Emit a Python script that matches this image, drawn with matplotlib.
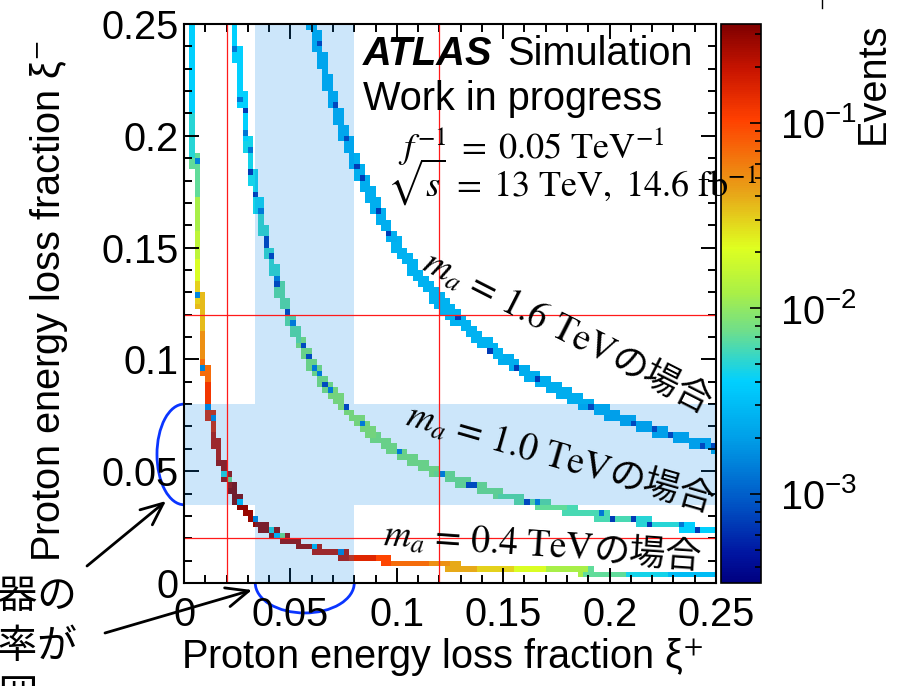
import numpy as np
import matplotlib
matplotlib.use('Agg')
import matplotlib.pyplot as plt
from matplotlib.colors import LogNorm, LinearSegmentedColormap
from matplotlib.patches import Rectangle, Arc
from matplotlib.ticker import MultipleLocator, FuncFormatter
from matplotlib.lines import Line2D

plt.rcParams['font.family'] = ['Liberation Sans', 'DejaVu Sans']
plt.rcParams['mathtext.fontset'] = 'stix'

# --- values ---
sqrt_s = 13.0                 # TeV
masses = [0.4, 1.0, 1.6]      # TeV, one curve each
xi_edges = np.linspace(0.0, 0.25, 101)   # 100 bins in xi+ and xi-
smear = 0.012                 # relative width of the filled trail

# events along each curve (xi+ where the colour changes, value from there on)
xi_04 = [0.0038, 0.0045, 0.005, 0.0055, 0.006, 0.0065, 0.007, 0.0075, 0.0085,
         0.0095, 0.0105, 0.012, 0.014, 0.017, 0.022, 0.03, 0.045, 0.06, 0.08,
         0.09, 0.1, 0.115, 0.125, 0.14, 0.155, 0.17, 0.19, 0.21, 0.23]
ev_04 = [4e-3, 5e-3, 7e-3, 0.012, 0.015, 0.02, 0.03, 0.035, 0.05,
         0.07, 0.12, 0.15, 0.2, 0.25, 0.3, 0.28, 0.25, 0.2, 0.15,
         0.1, 0.07, 0.05, 0.04, 0.03, 0.02, 0.012, 0.007, 0.0045, 0.003]
xi_10 = [0.0237, 0.03, 0.036, 0.045, 0.055, 0.07, 0.09, 0.12, 0.15, 0.18, 0.21, 0.235]
ev_10 = [4e-3, 4.5e-3, 5.5e-3, 7e-3, 9e-3, 0.01, 9e-3, 8e-3, 7e-3, 6e-3, 5e-3, 4e-3]
xi_16 = [0.0606, 0.1, 0.15, 0.2]
ev_16 = [2.5e-3, 2.6e-3, 2.4e-3, 2.2e-3]

# single cells that stand out (xi+ on the curve, events)
odd_04_xi = [0.005, 0.0074, 0.00984, 0.0121, 0.0129, 0.0196, 0.021, 0.0265,
             0.0336, 0.0406, 0.0437, 0.046, 0.061, 0.0738]
odd_04_ev = [1.5e-3, 1.5e-3, 1.5e-3, 1.5e-3, 1.5e-3, 5e-3, 8e-3, 3e-3,
             1.5e-3, 5e-3, 3e-3, 8e-3, 3e-3, 1.5e-3]
odd_10_xi = [0.0281, 0.0323, 0.0342, 0.0387, 0.0393, 0.0406, 0.0444, 0.049,
             0.0561, 0.0586, 0.0672, 0.0758, 0.1335, 0.1363, 0.161, 0.201,
             0.211, 0.218, 0.241,
             0.0249, 0.0274, 0.0295, 0.0306, 0.0357, 0.0437, 0.0513, 0.0618,
             0.0633, 0.0689, 0.084, 0.101, 0.121, 0.166, 0.1955, 0.234]
odd_10_ev = [7e-4] * 19 + [1.3e-3] * 16
odd_16_xi = [0.0628, 0.071, 0.0763, 0.0814, 0.0838, 0.0913, 0.097, 0.128, 0.145,
             0.156, 0.166, 0.191, 0.211, 0.22, 0.228, 0.243, 0.248]
odd_16_ev = [7e-4] * 17

band_xi_plus = (0.0335, 0.08)
band_xi_minus = (0.035, 0.08)
cut_lines = [0.02, 0.12]

label_xy = [(0.0931, 0.0166), (0.1034, 0.0707), (0.1109, 0.1400)]
label_angle = [-4, -16, -27]

# palette sampled from the colour bar
pal_pos = [0.0, 0.05, 0.15, 0.26, 0.36, 0.45, 0.52, 0.60, 0.70, 0.83, 0.92, 1.0]
pal_rgb = [(0, 0, 128), (0, 20, 160), (0, 90, 200), (0, 160, 232), (0, 208, 255),
           (110, 222, 140), (170, 240, 70), (223, 255, 32), (232, 164, 24),
           (255, 64, 0), (200, 20, 0), (128, 0, 0)]
palette = LinearSegmentedColormap.from_list(
    'atlas', [(p, tuple(c / 255 for c in rgb)) for p, rgb in zip(pal_pos, pal_rgb)])


def curve_cells(m2, xs, evs, odd_x, odd_e):
    cells = {}
    n = len(xi_edges) - 1
    for i in range(n):
        lo, hi = xi_edges[i], xi_edges[i + 1]
        c_lo = m2 / hi
        c_hi = m2 / lo if lo > 0 else np.inf
        y_lo = c_lo * (1 - smear)
        y_hi = c_hi * (1 + smear)
        for j in range(n):
            b0, b1 = xi_edges[j], xi_edges[j + 1]
            if b1 <= y_lo or b0 >= y_hi:
                continue
            yr = np.clip(0.5 * (b0 + b1), c_lo, c_hi)
            k = np.searchsorted(xs, m2 / yr, side='right') - 1
            cells[(i, j)] = evs[max(k, 0)]
    for x, e in zip(odd_x, odd_e):
        i = int(x / 0.0025)
        j = int((m2 / x) / 0.0025)
        if (i, j) in cells:
            cells[(i, j)] = e
    return cells


Z = np.full((100, 100), np.nan)
curves = [(xi_04, ev_04, odd_04_xi, odd_04_ev),
          (xi_10, ev_10, odd_10_xi, odd_10_ev),
          (xi_16, ev_16, odd_16_xi, odd_16_ev)]
for m, (xs, evs, ox, oe) in zip(masses, curves):
    for (i, j), v in curve_cells((m / sqrt_s) ** 2, xs, evs, ox, oe).items():
        Z[j, i] = v

W, H = 897, 686
fig = plt.figure(figsize=(W / 100, H / 100), dpi=100)
ax = fig.add_axes([184 / W, 1 - 583 / H, 532 / W, 559 / H])
cax = fig.add_axes([721 / W, 1 - 583 / H, 40 / W, 559 / H])

mesh = ax.pcolormesh(xi_edges, xi_edges, np.ma.masked_invalid(Z), cmap=palette,
                     norm=LogNorm(3.3e-4, 0.34), zorder=1)

# acceptance bands (one cross shaped region)
band_kw = dict(facecolor=(0, 0.51, 0.9), alpha=0.2, lw=0, zorder=2)
bx0, bx1 = band_xi_plus
by0, by1 = band_xi_minus
ax.add_patch(Rectangle((bx0, 0), bx1 - bx0, 0.25, **band_kw))
ax.add_patch(Rectangle((0, by0), bx0, by1 - by0, **band_kw))
ax.add_patch(Rectangle((bx1, by0), 0.25 - bx1, by1 - by0, **band_kw))

for v in cut_lines:
    ax.axvline(v, color='#ff1a1a', lw=0.9, zorder=3)
    ax.axhline(v, color='#ff1a1a', lw=0.9, zorder=3)

fs = 28.6
ax.set_xlim(0, 0.25)
ax.set_ylim(0, 0.25)
fmt = FuncFormatter(lambda v, p: f'{v:g}')
for axis in (ax.xaxis, ax.yaxis):
    axis.set_major_locator(MultipleLocator(0.05))
    axis.set_minor_locator(MultipleLocator(0.01))
    axis.set_major_formatter(fmt)
ax.tick_params(which='both', direction='in', top=True, right=True, width=1.4)
ax.tick_params(which='major', length=11, labelsize=fs)
ax.tick_params(which='minor', length=6)
ax.tick_params(axis='x', pad=9)
ax.tick_params(axis='y', pad=4)
for s in ax.spines.values():
    s.set_linewidth(1.5)
    s.set_zorder(5)

cb = fig.colorbar(mesh, cax=cax)
cb.outline.set_linewidth(1.2)
cax.yaxis.set_ticks_position('right')
cax.tick_params(which='both', direction='in', right=True, left=False, width=1.2)
cax.tick_params(which='major', length=8, labelsize=fs, pad=14)
cax.tick_params(which='minor', length=4)

fig.text(884 / W, 1 - 22 / H, 'Events', rotation=90, rotation_mode='anchor',
         ha='right', va='baseline', fontsize=fs)
fig.text(60 / W, 1 - 40 / H, r'Proton energy loss fraction ξ$^{-}$', rotation=90,
         rotation_mode='anchor', ha='right', va='baseline', fontsize=fs)
fig.text(703 / W, 1 - 669 / H, r'Proton energy loss fraction ξ$^{+}$',
         ha='right', va='baseline', fontsize=fs)

fig.text(363 / W, 1 - 65 / H, 'ATLAS', weight='bold', style='italic',
         fontsize=fs, va='baseline')
fig.text(507 / W, 1 - 65 / H, 'Simulation', fontsize=fs, va='baseline')
fig.text(363 / W, 1 - 110 / H, 'Work in progress', fontsize=fs, va='baseline')
fig.text(398 / W, 1 - 158 / H, r'$f^{-1}\;=\;0.05\ \mathrm{TeV}^{-1}$',
         fontsize=26, va='baseline', zorder=10)
fig.text(387 / W, 1 - 196 / H,
         r'$\sqrt{s}\;=\;13\ \mathrm{TeV},\ 14.6\ \mathrm{fb}^{-1}$',
         fontsize=26, va='baseline', zorder=10)

renderer = fig.canvas.get_renderer()
for m, (lx, ly), ang in zip(masses, label_xy, label_angle):
    s = rf'$m_a\,=\,{m:.1f}\ \mathrm{{TeV}}$'
    ax.text(lx, ly, s, fontsize=27, rotation=ang, rotation_mode='anchor',
            ha='left', va='baseline', zorder=6)
    tmp = fig.text(0, 0, s, fontsize=27)
    w = tmp.get_window_extent(renderer).width
    tmp.remove()
    dx = w * np.cos(np.radians(ang)) * 0.72
    dy = w * np.sin(np.radians(ang)) * 0.72
    ax.annotate('の場合', (lx, ly), xytext=(dx, dy), textcoords='offset points',
                rotation=ang, rotation_mode='anchor', ha='left', va='baseline',
                fontsize=26, family='Noto Sans CJK JP', zorder=6)

# brackets marking the acceptance ranges, drawn outside the frame
ax.add_patch(Arc((0, (by0 + by1) / 2), 0.0254, by1 - by0, theta1=90, theta2=270,
                 color='#0a35ff', lw=2, clip_on=False))
ax.add_patch(Arc(((bx0 + bx1) / 2, 0), bx1 - bx0, 0.0268, theta1=180, theta2=360,
                 color='#0a35ff', lw=2, clip_on=False))

for t, row in zip([608, 658, 708], ['検出器の', '受容率が', '大範囲']):
    fig.text(-81 / W, 1 - t / H, row, family='Noto Sans CJK JP', fontsize=fs,
             va='baseline')

for tail, head in [((87, 566), (166, 501)), ((105, 633), (252, 590))]:
    ax.annotate('', xy=(head[0], H - head[1]), xycoords='figure pixels',
                xytext=(tail[0], H - tail[1]), textcoords='figure pixels',
                arrowprops=dict(arrowstyle='->,head_length=0.8,head_width=0.35',
                                lw=2, color='k', shrinkA=0, shrinkB=0,
                                mutation_scale=20),
                annotation_clip=False)

fig.add_artist(Line2D([822 / W, 822 / W], [1.0, 1 - 8 / H], color='k', lw=1))

fig.savefig('out.png', dpi=100)
